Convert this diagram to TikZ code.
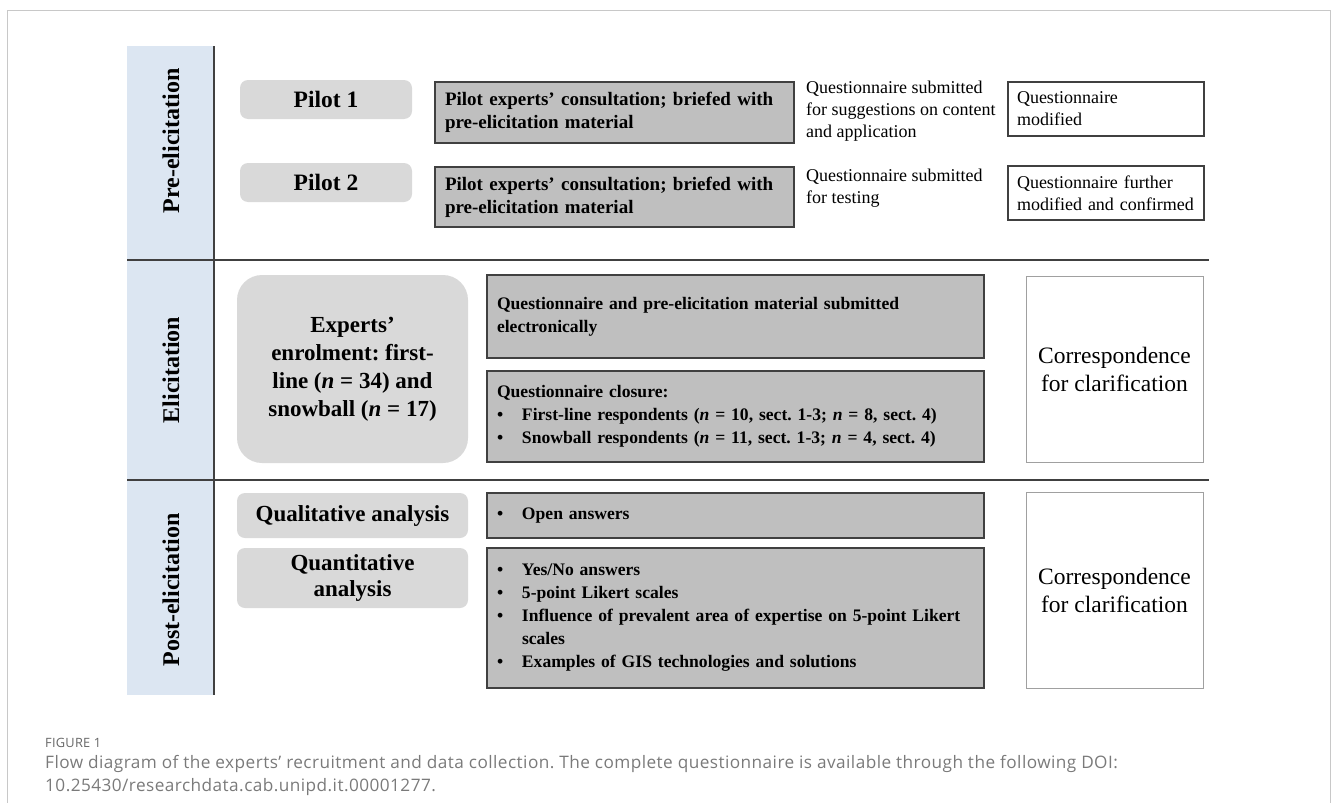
\documentclass[tikz,border=0pt]{standalone}
\usepackage{fontspec}
\setmainfont{Liberation Serif}
\newfontfamily\capfont[LetterSpace=2.6]{Open Sans}
\newfontfamily\capfontb[LetterSpace=2]{Open Sans}
\definecolor{bluec}{HTML}{DCE6F2}
\definecolor{pillc}{HTML}{D9D9D9}
\definecolor{grayc}{HTML}{BFBFBF}
\definecolor{darkc}{HTML}{404040}
\definecolor{lightb}{HTML}{A0A0A0}
\definecolor{framec}{HTML}{C8C8C8}
\definecolor{capc}{HTML}{7A7A7A}
\definecolor{capf}{HTML}{666666}
\newcommand\blt{\makebox[25pt][l]{\textbullet}}
\begin{document}
\frenchspacing
\begin{tikzpicture}[x=1pt,y=-1pt,
  pill/.style={fill=pillc, rounded corners=8pt, inner sep=0pt, align=center,
    font=\fontsize{23.5}{27}\selectfont\bfseries},
  gbox/.style={fill=grayc, draw=darkc, line width=1.2pt, inner xsep=10pt, inner ysep=0pt,
    align=left, font=\fontsize{19}{23}\selectfont\bfseries},
  gboxs/.style={gbox, font=\fontsize{17.6}{23}\selectfont\bfseries},
  wbox/.style={fill=white, draw=darkc, line width=1.2pt, inner xsep=9pt, inner ysep=0pt,
    align=left, font=\fontsize{18}{22}\selectfont},
  cbox/.style={fill=white, draw=lightb, line width=1pt, inner sep=0pt,
    align=center, font=\fontsize{23.5}{28}\selectfont},
  ptext/.style={inner sep=0pt, align=left, font=\fontsize{18}{21.7}\selectfont},
  sectlabel/.style={rotate=90, inner sep=0pt, font=\fontsize{24}{28}\selectfont\bfseries},
  sepline/.style={draw=darkc, line width=1.5pt},
  capfig/.style={inner sep=0pt, text=capf, font=\capfontb\fontsize{12.8}{15}\selectfont},
  captext/.style={inner sep=0pt, text=capc, font=\capfont\fontsize{17.2}{23}\selectfont}
]
\useasboundingbox (0,0) rectangle (1331,803);
% outer frame
\draw[framec, line width=1pt] (7,803) -- (7,10) -- (1330,10) -- (1330,803);
% left column
\fill[bluec] (127,46) rectangle (213,695);
\draw[sepline] (214,46) -- (214,695);
\draw[sepline] (127,260) -- (1209,260);
\draw[sepline] (127,480) -- (1209,480);
\node[sectlabel] (L1) at (171,141) {Pre-elicitation};
\node[sectlabel] (L2) at (171,370) {Elicitation};
\node[sectlabel] (L3) at (171,590) {Post-elicitation};
% pre-elicitation
\node[pill, minimum width=172, minimum height=39] (p1) at (326,99.5) {Pilot 1};
\node[pill, minimum width=172, minimum height=39] (p2) at (326,182.5) {Pilot 2};
\node[gbox, minimum height=61, text width=339] (g1) at (614.5,112.5)
  {Pilot experts’ consultation; briefed with\\pre-elicitation material};
\node[gbox, minimum height=60, text width=339] (g2) at (614.5,197)
  {Pilot experts’ consultation; briefed with\\pre-elicitation material};
\node[ptext, anchor=west] (t1) at (806,111)
  {Questionnaire submitted\\for suggestions on content\\and application};
\node[ptext, anchor=west] (t2) at (806,188)
  {Questionnaire submitted\\for testing};
\node[wbox, minimum height=54, text width=178] (w1) at (1106,109)
  {Questionnaire\\modified};
\node[wbox, minimum height=54, text width=178] (w2) at (1106,193)
  {Questionnaire further\\\mbox{modified and confirmed}};
% elicitation
\node[pill, rounded corners=25pt, minimum width=231, minimum height=188,
  font=\fontsize{23}{28}\selectfont\bfseries] (ex) at (352.5,369)
  {Experts’\\enrolment: first-\\line (\textit{n} = 34) and\\snowball (\textit{n} = 17)};
\node[gboxs, minimum height=83, text width=477] (gA) at (735.5,316.5)
  {\mbox{Questionnaire and pre-elicitation material submitted}\\electronically};
\node[gboxs, minimum height=91, text width=477] (gB) at (735.5,416.5)
  {Questionnaire closure:\\
   \mbox{\blt First-line respondents (\textit{n} = 10, sect. 1-3; \textit{n} = 8, sect. 4)}\\
   \mbox{\blt Snowball respondents (\textit{n} = 11, sect. 1-3; \textit{n} = 4, sect. 4)}};
\node[cbox, minimum width=177, minimum height=186] (cA) at (1114.5,369)
  {Correspondence\\for clarification};
% post-elicitation
\node[pill, minimum width=231, minimum height=45, font=\fontsize{23}{26}\selectfont\bfseries] (q1) at (352.5,515.5)
  {Qualitative analysis};
\node[pill, minimum width=231, minimum height=60, font=\fontsize{23}{26}\selectfont\bfseries] (q2) at (352.5,578)
  {Quantitative\\analysis};
\node[gboxs, minimum height=45, text width=477] (gC) at (735.5,515.5)
  {\blt Open answers};
\node[gboxs, minimum height=140, text width=477] (gD) at (735.5,618)
  {\blt Yes/No answers\\
   \blt 5-point Likert scales\\
   \mbox{\blt Influence of prevalent area of expertise on 5-point Likert}\\
   \hspace*{25pt}scales\\
   \mbox{\blt Examples of GIS technologies and solutions}};
\node[cbox, minimum width=177, minimum height=196] (cB) at (1114.5,590)
  {Correspondence\\for clarification};
% caption
\node[capfig, anchor=base west] (fig) at (45,747) {FIGURE 1};
\node[captext, anchor=base west] (cap1) at (45,768)
  {Flow diagram of the experts’ recruitment and data collection. The complete questionnaire is available through the following DOI:};
\node[captext, anchor=base west] (cap2) at (45,791)
  {10.25430/researchdata.cab.unipd.it.00001277.};
\end{tikzpicture}
\end{document}
